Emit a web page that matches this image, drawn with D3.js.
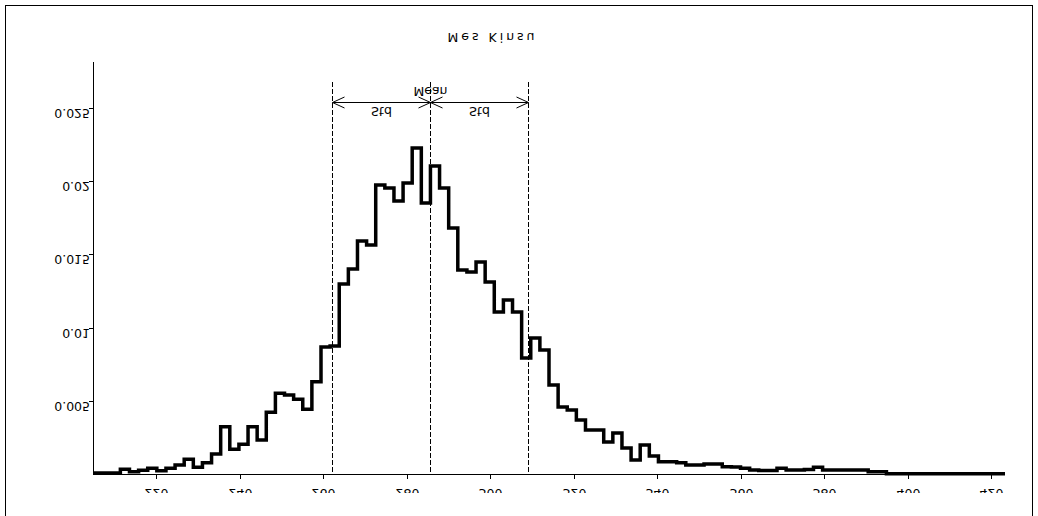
<!DOCTYPE html>
<html>
<head>
<meta charset="utf-8">
<script src="https://cdn.jsdelivr.net/npm/d3@7"></script>
<style>
  html, body { margin: 0; padding: 0; background: #fff; }
  svg { display: block; }
  text { font-family: "DejaVu Sans", sans-serif; fill: #000; }
</style>
</head>
<body>
<svg id="chart" width="1038" height="516"></svg>
<script>
// ---- data ----
const title = "Mes Kinsu";
const binStart = 204.9;
const binWidth = 2.1845;
const density = [
  0.00007, 0.00007, 0.00007, 0.00032, 0.00016, 0.00025, 0.00039, 0.00023, 0.00039, 0.00061,
  0.00100, 0.00046, 0.00077, 0.00137, 0.00323, 0.00169, 0.00203, 0.00323, 0.00232, 0.00421,
  0.00551, 0.00539, 0.00510, 0.00442, 0.00630, 0.00867, 0.00874, 0.01297, 0.01400, 0.01590,
  0.01563, 0.01973, 0.01952, 0.01864, 0.01986, 0.02225, 0.01850, 0.02102, 0.01952, 0.01679,
  0.01393, 0.01379, 0.01447, 0.01310, 0.01106, 0.01188, 0.01106, 0.00792, 0.00928, 0.00846,
  0.00608, 0.00457, 0.00437, 0.00369, 0.00300, 0.00300, 0.00218, 0.00280, 0.00177, 0.00096,
  0.00198, 0.00123, 0.00084, 0.00084, 0.00077, 0.00061, 0.00061, 0.00068, 0.00068, 0.00050,
  0.00048, 0.00039, 0.00027, 0.00024, 0.00024, 0.00039, 0.00027, 0.00027, 0.00030, 0.00046,
  0.00027, 0.00027, 0.00027, 0.00027, 0.00027, 0.00016, 0.00016, 0.00001, 0.00001, 0.00001,
  0.00001, 0.00001, 0.00001, 0.00001, 0.00001, 0.00001, 0.00001, 0.00001, 0.00001, 0.00001
];
const meanValue = 285.6;
const stdValue = 23.45;
const xTicks = [220, 240, 260, 280, 300, 320, 340, 360, 380, 400, 420];
const yTicks = [0.005, 0.01, 0.015, 0.02, 0.025];
const yTickLabels = ["0.005", "0.01", "0.015", "0.02", "0.025"];
const meanLabel = "Mean";
const stdLabel = "Std";

// ---- layout ----
const svg = d3.select("#chart");
const plot = { left: 93, right: 1005, top: 62, bottom: 474 };
const xMin = binStart, xMax = binStart + binWidth * density.length;
const x = d3.scaleLinear().domain([xMin, xMax]).range([plot.left, plot.right]);
const y = d3.scaleLinear().domain([0, (plot.bottom - plot.top) / 14650]).range([plot.bottom, plot.top]);

// frame
svg.append("rect").attr("x", 5.5).attr("y", 5.5).attr("width", 1027).attr("height", 520)
  .attr("fill", "none").attr("stroke", "#000").attr("stroke-width", 1);

// flipped text helper (text is drawn mirrored top-to-bottom)
function flipText(g, tx, ty, str, anchor, size) {
  return g.append("text")
    .attr("transform", `translate(${tx},${ty}) scale(1,-1)`)
    .attr("text-anchor", anchor)
    .attr("font-size", size)
    .text(str);
}

// title
flipText(svg, 491, 33, title, "middle", 12.5).attr("textLength", 87).attr("lengthAdjust", "spacing");

// axes
svg.append("line").attr("x1", plot.left + 0.5).attr("x2", plot.left + 0.5)
  .attr("y1", plot.top).attr("y2", plot.bottom).attr("stroke", "#000");
svg.append("line").attr("x1", plot.left).attr("x2", plot.right)
  .attr("y1", plot.bottom + 0.5).attr("y2", plot.bottom + 0.5).attr("stroke", "#000");

// y ticks
yTicks.forEach((v, i) => {
  const yy = Math.round(y(v)) + 0.5;
  svg.append("line").attr("x1", plot.left - 4).attr("x2", plot.left).attr("y1", yy).attr("y2", yy).attr("stroke", "#000");
  flipText(svg, plot.left - 3, yy + 0.5, yTickLabels[i], "end", 12.5);
});

// x ticks
svg.append("clipPath").attr("id", "xclip").append("rect")
  .attr("x", 0).attr("y", 476).attr("width", 1038).attr("height", 17);
const xg = svg.append("g").attr("clip-path", "url(#xclip)");
xTicks.forEach(v => {
  const xx = Math.round(x(v)) + 0.5;
  svg.append("line").attr("x1", xx).attr("x2", xx).attr("y1", plot.bottom).attr("y2", plot.bottom + 5).attr("stroke", "#000");
  flipText(xg, xx, 488.5, String(v), "middle", 12.5);
});

// histogram step line
const pts = density.map((d, i) => [binStart + i * binWidth, d]);
pts.push([xMax, density[density.length - 1]]);
const line = d3.line().x(d => x(d[0])).y(d => y(d[1])).curve(d3.curveStepAfter);
svg.append("path").datum(pts).attr("d", line)
  .attr("fill", "none").attr("stroke", "#000").attr("stroke-width", 3.5).attr("stroke-linejoin", "miter");

// mean / std lines
const lineTop = 82;
const xs = [meanValue - stdValue, meanValue, meanValue + stdValue].map(v => Math.round(x(v)) + 0.5);
xs.forEach(xx => {
  svg.append("line").attr("x1", xx).attr("x2", xx).attr("y1", lineTop).attr("y2", plot.bottom)
    .attr("stroke", "#000").attr("stroke-width", 1).attr("stroke-dasharray", "5,2");
});
const ay = 102.5;
svg.append("line").attr("x1", xs[0]).attr("x2", xs[2]).attr("y1", ay).attr("y2", ay).attr("stroke", "#000");
function arrowHead(xtip, dir) {
  svg.append("path")
    .attr("d", `M${xtip + dir * 12},${ay - 5.5} L${xtip},${ay} L${xtip + dir * 12},${ay + 5.5}`)
    .attr("fill", "none").attr("stroke", "#000").attr("stroke-width", 1);
}
arrowHead(xs[0], 1); arrowHead(xs[1], -1); arrowHead(xs[1], 1); arrowHead(xs[2], -1);

flipText(svg, xs[1], 87, meanLabel, "middle", 12.5);
flipText(svg, (xs[0] + xs[1]) / 2, 107, stdLabel, "middle", 12.5);
flipText(svg, (xs[1] + xs[2]) / 2, 107, stdLabel, "middle", 12.5);
</script>
</body>
</html>
